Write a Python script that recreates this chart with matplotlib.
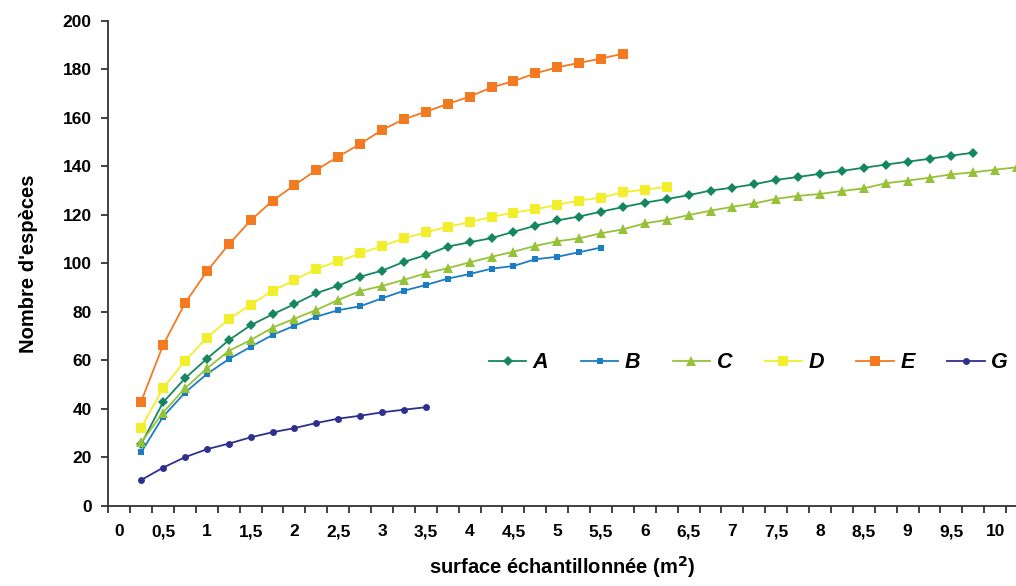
import matplotlib
matplotlib.use("Agg")
import matplotlib.pyplot as plt
import numpy as np

plt.rcParams['font.family'] = ['Liberation Sans', 'DejaVu Sans']
plt.rcParams['font.weight'] = 'bold'

# surface steps (m2), one sample every 0.25
step = 0.25

A = [25.5, 42.7, 52.6, 60.7, 68.3, 74.5, 79.0, 83.2, 87.7, 90.8, 94.5, 97.0, 100.6,
     103.4, 106.9, 108.7, 110.4, 113.0, 115.5, 117.7, 119.3, 121.3, 123.2, 125.0, 126.5,
     128.1, 130.0, 131.2, 132.6, 134.4, 135.6, 136.9, 138.1, 139.4, 140.7, 141.9, 143.1,
     144.4, 145.6]
B = [22.1, 36.8, 46.7, 54.4, 60.5, 65.6, 70.5, 74.3, 78.0, 80.7, 82.3, 85.6, 88.7,
     91.1, 93.7, 95.6, 97.8, 98.9, 101.7, 102.7, 104.6, 106.5]
C = [26.2, 38.5, 48.5, 56.7, 63.9, 68.4, 73.5, 77.2, 80.8, 84.9, 88.6, 90.7, 93.2,
     95.9, 98.0, 100.4, 102.7, 104.8, 107.2, 109.1, 110.3, 112.4, 114.0, 116.5, 117.9,
     119.9, 121.7, 123.3, 124.7, 126.6, 127.8, 128.6, 129.8, 130.9, 133.0, 134.1, 135.3,
     136.7, 137.5, 138.6, 139.6]
D = [32.3, 48.5, 59.8, 69.4, 76.9, 83.0, 88.7, 93.1, 97.8, 100.8, 104.1, 107.1, 110.3,
     112.8, 115.1, 117.0, 119.1, 120.9, 122.3, 124.1, 125.9, 127.1, 129.3, 130.4, 131.5]
E = [43.0, 66.3, 83.5, 96.7, 107.8, 117.7, 125.8, 132.2, 138.5, 144.0, 149.2, 155.0, 159.4,
     162.5, 165.7, 168.7, 172.5, 175.1, 178.3, 180.8, 182.6, 184.4, 186.4]
G = [10.7, 15.8, 20.1, 23.4, 25.7, 28.3, 30.4, 32.1, 34.2, 36.0, 37.2, 38.6, 39.7, 40.7]

names = ["A", "B", "C", "D", "E", "G"]
series = [A, B, C, D, E, G]
colors = ["#15875f", "#1b7dc2", "#96c23a", "#f2ee2c", "#f47a22", "#2e2f8e"]
markers = ["D", "s", "^", "s", "s", "o"]
msizes = [5, 4.5, 6.5, 6.5, 6.5, 5]

fig = plt.figure(figsize=(10.16, 5.86), dpi=100)
ax = fig.add_axes([108.3 / 1016, 1 - 506 / 586, 1 - 108.3 / 1016, (506 - 20.7) / 586])

for name, vals, c, m, ms in zip(names, series, colors, markers, msizes):
    x = step * np.arange(1, len(vals) + 1)
    ax.plot(x, vals, color=c, marker=m, markersize=ms, linewidth=1.3,
            markeredgewidth=0, label=name)

ax.set_ylim(0, 200)
ax.set_xlim(-0.125, 10.237)
ax.set_yticks(np.arange(0, 201, 20))

# category style axis: tick marks between categories, labels every 0.5
ax.set_xticks(np.arange(-0.125, 10.3, 0.25))
ax.set_xticklabels([])
lab_pos = np.arange(0, 10.01, 0.5)
ax.set_xticks(lab_pos, minor=True)
ax.set_xticklabels([("%g" % v).replace(".", ",") for v in lab_pos], minor=True)
ax.tick_params(axis="x", which="major", direction="out", length=5, width=1.3, color="#333333")
ax.tick_params(axis="x", which="minor", length=0, pad=13, labelsize=12.5)
ax.tick_params(axis="y", direction="out", length=5, width=1.3, color="#333333",
               pad=7, labelsize=12.5)

for s in ["top", "right"]:
    ax.spines[s].set_visible(False)
for s in ["left", "bottom"]:
    ax.spines[s].set_linewidth(1.3)
    ax.spines[s].set_color("#333333")

ax.set_ylabel("Nombre d'espèces", fontsize=14.5, fontweight="bold", labelpad=18)
ax.set_xlabel("surface échantillonnée (m$^\\mathbf{2}$)", fontsize=14.5, fontweight="bold",
              labelpad=11)

leg = ax.legend(ncol=6, loc="center left", bbox_to_anchor=(478 / 1016, 1 - 363 / 586),
                bbox_transform=fig.transFigure, frameon=False, borderpad=0,
                handlelength=1.75, handletextpad=0.3, columnspacing=1.5,
                prop={"size": 15.5, "weight": "bold", "style": "italic"})

fig.savefig("out.png", dpi=100)
